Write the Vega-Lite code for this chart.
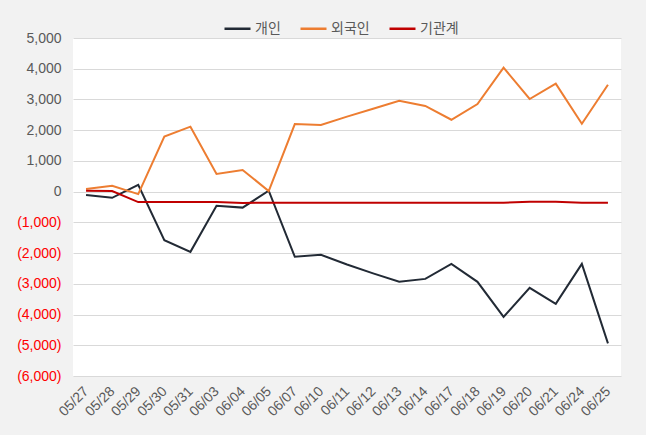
{
  "$schema": "https://vega.github.io/schema/vega-lite/v6.json",
  "width": 548,
  "height": 338,
  "autosize": {"type": "none"},
  "padding": {"left": 73, "top": 38, "right": 25, "bottom": 59},
  "background": "#f2f2f2",
  "config": {
    "font": "Liberation Sans, Noto Sans CJK KR, sans-serif",
    "view": {"fill": "white", "stroke": null}
  },
  "data": {
    "values": [
      {"date": "05/27", "series": "개인", "value": -110},
      {"date": "05/28", "series": "개인", "value": -200},
      {"date": "05/29", "series": "개인", "value": 220},
      {"date": "05/30", "series": "개인", "value": -1580},
      {"date": "05/31", "series": "개인", "value": -1960},
      {"date": "06/03", "series": "개인", "value": -460},
      {"date": "06/04", "series": "개인", "value": -520},
      {"date": "06/05", "series": "개인", "value": 30},
      {"date": "06/07", "series": "개인", "value": -2120},
      {"date": "06/10", "series": "개인", "value": -2055},
      {"date": "06/11", "series": "개인", "value": -2370},
      {"date": "06/12", "series": "개인", "value": -2660},
      {"date": "06/13", "series": "개인", "value": -2935},
      {"date": "06/14", "series": "개인", "value": -2840},
      {"date": "06/17", "series": "개인", "value": -2350},
      {"date": "06/18", "series": "개인", "value": -2935},
      {"date": "06/19", "series": "개인", "value": -4075},
      {"date": "06/20", "series": "개인", "value": -3130},
      {"date": "06/21", "series": "개인", "value": -3650},
      {"date": "06/24", "series": "개인", "value": -2350},
      {"date": "06/25", "series": "개인", "value": -4940},
      {"date": "05/27", "series": "외국인", "value": 85},
      {"date": "05/28", "series": "외국인", "value": 190},
      {"date": "05/29", "series": "외국인", "value": -80},
      {"date": "05/30", "series": "외국인", "value": 1790},
      {"date": "05/31", "series": "외국인", "value": 2115},
      {"date": "06/03", "series": "외국인", "value": 575},
      {"date": "06/04", "series": "외국인", "value": 705},
      {"date": "06/05", "series": "외국인", "value": 20},
      {"date": "06/07", "series": "외국인", "value": 2200},
      {"date": "06/10", "series": "외국인", "value": 2170},
      {"date": "06/11", "series": "외국인", "value": 2440},
      {"date": "06/12", "series": "외국인", "value": 2700},
      {"date": "06/13", "series": "외국인", "value": 2960},
      {"date": "06/14", "series": "외국인", "value": 2790},
      {"date": "06/17", "series": "외국인", "value": 2340},
      {"date": "06/18", "series": "외국인", "value": 2850},
      {"date": "06/19", "series": "외국인", "value": 4035},
      {"date": "06/20", "series": "외국인", "value": 3015},
      {"date": "06/21", "series": "외국인", "value": 3515},
      {"date": "06/24", "series": "외국인", "value": 2210},
      {"date": "06/25", "series": "외국인", "value": 3480},
      {"date": "05/27", "series": "기관계", "value": 30},
      {"date": "05/28", "series": "기관계", "value": 20},
      {"date": "05/29", "series": "기관계", "value": -340},
      {"date": "05/30", "series": "기관계", "value": -340},
      {"date": "05/31", "series": "기관계", "value": -340},
      {"date": "06/03", "series": "기관계", "value": -340},
      {"date": "06/04", "series": "기관계", "value": -370},
      {"date": "06/05", "series": "기관계", "value": -360},
      {"date": "06/07", "series": "기관계", "value": -360},
      {"date": "06/10", "series": "기관계", "value": -360},
      {"date": "06/11", "series": "기관계", "value": -360},
      {"date": "06/12", "series": "기관계", "value": -360},
      {"date": "06/13", "series": "기관계", "value": -360},
      {"date": "06/14", "series": "기관계", "value": -360},
      {"date": "06/17", "series": "기관계", "value": -360},
      {"date": "06/18", "series": "기관계", "value": -360},
      {"date": "06/19", "series": "기관계", "value": -360},
      {"date": "06/20", "series": "기관계", "value": -330},
      {"date": "06/21", "series": "기관계", "value": -330},
      {"date": "06/24", "series": "기관계", "value": -360},
      {"date": "06/25", "series": "기관계", "value": -360}
    ]
  },
  "mark": {"type": "line", "strokeWidth": 2},
  "encoding": {
    "x": {
      "field": "date",
      "type": "ordinal",
      "sort": null,
      "scale": {"type": "point", "padding": 0.5},
      "axis": {
        "title": null,
        "domain": false,
        "ticks": false,
        "grid": false,
        "labelAngle": -45,
        "labelAlign": "right",
        "labelBaseline": "middle",
        "labelPadding": 13,
        "labelFontSize": 14,
        "labelColor": "#595959"
      }
    },
    "y": {
      "field": "value",
      "type": "quantitative",
      "scale": {"domain": [-6000, 5000], "nice": false, "zero": false},
      "axis": {
        "title": null,
        "domain": false,
        "ticks": false,
        "values": [-6000, -5000, -4000, -3000, -2000, -1000, 0, 1000, 2000, 3000, 4000, 5000],
        "labelExpr": "datum.value < 0 ? '(' + format(-datum.value, ',') + ')' : format(datum.value, ',') + '\u00a0'",
        "labelColor": {"condition": {"test": "datum.value < 0", "value": "#ff0000"}, "value": "#595959"},
        "labelFontSize": 14,
        "labelPadding": 12,
        "gridColor": "#d9d9d9",
        "gridWidth": 1
      }
    },
    "color": {
      "field": "series",
      "type": "nominal",
      "sort": null,
      "scale": {"domain": ["개인", "외국인", "기관계"], "range": ["#222a35", "#ed7d31", "#c00000"]},
      "legend": {
        "title": null,
        "orient": "none",
        "direction": "horizontal",
        "legendX": 150,
        "legendY": -24,
        "symbolType": "stroke",
        "symbolSize": 676,
        "symbolStrokeWidth": 2.5,
        "labelFontSize": 14,
        "labelColor": "#595959",
        "labelOffset": 3,
        "columnPadding": 14
      }
    }
  }
}
